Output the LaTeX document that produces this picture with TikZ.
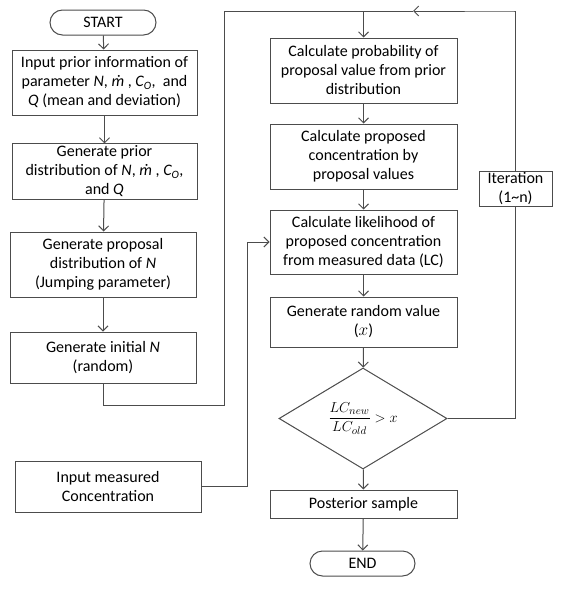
\documentclass[tikz,border=0pt]{standalone}
\usepackage{amsmath}
\usepackage{fontspec}
\setmainfont{Carlito}
\usetikzlibrary{shapes.geometric,shapes.misc,arrows.meta}

\tikzset{
    procbox/.style={draw=black!70, line width=1pt, rectangle, align=center, inner sep=2pt,
        font=\fontsize{16}{19}\selectfont},
    termbox/.style={draw=black!70, line width=1pt, rounded rectangle, inner sep=2pt,
        font=\fontsize{16}{19}\selectfont},
    decbox/.style={draw=black!70, line width=1pt, diamond, inner sep=0pt, shape aspect=1.66},
    flow/.style={draw=black!70, line width=1pt}
}

\begin{document}
\begin{tikzpicture}[x=1pt,y=-1pt,>={Straight Barb[length=5pt,width=10pt]}]
    \useasboundingbox (0,0) rectangle (561,589);

    % left column
    \node[termbox, minimum width=110pt, minimum height=25pt] (start) at (103,22.5) {START};
    \node[procbox, minimum width=185pt, minimum height=65pt] (prior) at (104.5,82.5)
        {Input prior information of\\parameter \textit{N}, \textit{ṁ} , \textit{C\textsubscript{O}},~ and\\\textit{Q} (mean and deviation)};
    \node[procbox, minimum width=185pt, minimum height=53pt] (pdist) at (104.5,171.5)
        {Generate prior\\distribution of \textit{N}, \textit{ṁ} , \textit{C\textsubscript{O}},\\and \textit{Q}};
    \node[procbox, minimum width=186pt, minimum height=65pt] (jump) at (103,264.5)
        {Generate proposal\\distribution of \textit{N}\\(Jumping parameter)};
    \node[procbox, minimum width=186pt, minimum height=51pt] (init) at (103,357.5)
        {Generate initial \textit{N}\\(random)};
    \node[procbox, minimum width=186pt, minimum height=51pt] (meas) at (108,486.5)
        {Input measured\\Concentration};

    % right column
    \node[procbox, minimum width=187pt, minimum height=65pt] (prob) at (363.5,70.5)
        {Calculate probability of\\proposal value from prior\\distribution};
    \node[procbox, minimum width=187pt, minimum height=65pt] (conc) at (363.5,156.5)
        {Calculate proposed\\concentration by\\proposal values};
    \node[procbox, minimum width=187pt, minimum height=64pt] (like) at (363.5,242)
        {Calculate likelihood of\\proposed concentration\\from measured data (LC)};
    \node[procbox, minimum width=187pt, minimum height=50pt] (rand) at (363.5,322)
        {Generate random value\\($x$)};
    \node[decbox, minimum width=168pt, minimum height=101pt, font=\fontsize{15}{18}\selectfont] (test) at (363,418.5)
        {$\dfrac{LC_{new}}{LC_{old}} > x$};
    \node[procbox, minimum width=187pt, minimum height=28pt] (post) at (363.5,504)
        {Posterior sample};
    \node[termbox, minimum width=109pt, minimum height=25pt] (end) at (362.5,563.5) {END};
    \node[procbox, minimum width=73pt, minimum height=35pt, inner sep=1pt] (iter) at (515.5,188.5)
        {Iteration\\(1\textasciitilde n)};

    \coordinate (bl) at (224,405);
    \coordinate (tl) at (224,11);
    \coordinate (tr) at (514,11);
    \coordinate (mk) at (413,11);
    \coordinate (mv) at (247,0);

    % arrows
    \draw[flow,->] (start) -- (prior);
    \draw[flow,->] (prior) -- (pdist);
    \draw[flow,->] (pdist) -- (jump);
    \draw[flow,->] (jump) -- (init);
    \draw[flow] (init.south) -- (init.south |- bl) -- (bl) -- (tl) -- (prob.north |- tl);
    \draw[flow,->] (prob.north |- tl) -- (prob.north);
    \draw[flow,->] (prob) -- (conc);
    \draw[flow,->] (conc) -- (like);
    \draw[flow,->] (like) -- (rand);
    \draw[flow,->] (rand) -- (test);
    \draw[flow,->] (test) -- (post);
    \draw[flow,->] (post) -- (end);
    \draw[flow,->] (meas.east) -| (mv |- like.west) -- (like.west);
    \draw[flow] (test.east) -| (iter.south);
    \draw[flow,->] (iter.north) |- (tr) -- (mk);
    \draw[flow] (mk) -- (prob.north |- tl);
\end{tikzpicture}
\end{document}
